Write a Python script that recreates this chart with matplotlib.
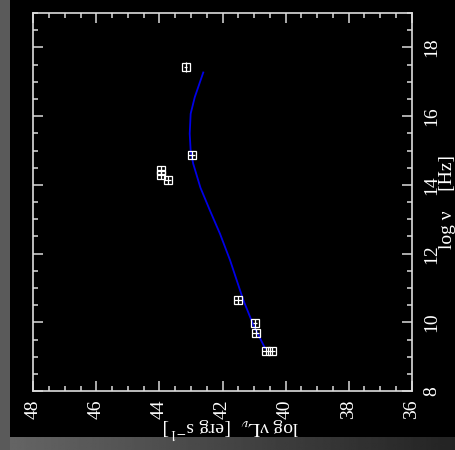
import numpy as np
import matplotlib
matplotlib.use("Agg")
import matplotlib.pyplot as plt
from matplotlib.ticker import MultipleLocator

plt.rcParams['font.family'] = ['Liberation Serif', 'DejaVu Serif']
plt.rcParams['mathtext.fontset'] = 'stix'

# Observed SED points: log(nu L_nu) [erg/s] and log(nu) [Hz]
obs_lum = [43.16, 42.98, 43.95, 43.95, 43.74, 41.50, 40.97, 40.95, 40.63, 40.44]
obs_nu = [17.42, 14.86, 14.44, 14.28, 14.15, 10.65, 9.97, 9.70, 9.17, 9.17]
obs_nu_err = [0.15, 0.12, 0.12, 0.12, 0.12, 0.12, 0.12, 0.12, 0.12, 0.12]
obs_lum_err = [0.05, 0.12, 0.12, 0.12, 0.12, 0.12, 0.05, 0.12, 0.12, 0.12]

# Model curve
model_nu = [9.25, 9.92, 10.65, 11.81, 12.58, 13.26, 13.92, 14.62, 15.00, 15.49, 16.07, 16.55, 17.27]
model_lum = [40.65, 41.02, 41.34, 41.76, 42.08, 42.40, 42.70, 42.93, 43.01, 43.04, 43.01, 42.88, 42.61]

W, H = 455, 450
fig = plt.figure(figsize=(W / 100, H / 100), dpi=100, facecolor='black')

# grey shadow border on the left and bottom
bg = fig.add_axes([0, 0, 1, 1], zorder=-10)
bg.set_axis_off()
bg.add_patch(plt.Rectangle((0, 0), 10, H, color='#5a5a5a', lw=0))
grad = np.linspace(0.40, 0.14, 256)[None, :]
bg.imshow(grad, extent=(0, W, H, 437), cmap='gray', vmin=0, vmax=1, aspect='auto')
bg.set_xlim(0, W)
bg.set_ylim(H, 0)

fg = '#dcdcdc'
ax = fig.add_axes([33.3 / W, 1 - 391.2 / H, 378.4 / W, 378.2 / H])
ax.set_facecolor('black')
for s in ax.spines.values():
    s.set_color(fg)
    s.set_linewidth(1.2)

ax.plot(model_lum, model_nu, color='#0000e6', lw=1.3, zorder=2)
ax.errorbar(obs_lum, obs_nu, xerr=obs_lum_err, yerr=obs_nu_err, fmt='s',
            mfc='none', mec='white', mew=0.9, ms=5.6, ecolor='white',
            elinewidth=0.9, capsize=0, zorder=3)

ax.set_xlim(48, 36)
ax.set_ylim(8, 19)
ax.xaxis.set_major_locator(MultipleLocator(2))
ax.xaxis.set_minor_locator(MultipleLocator(0.5))
ax.yaxis.set_major_locator(MultipleLocator(2))
ax.yaxis.set_minor_locator(MultipleLocator(0.5))
ax.tick_params(which='both', direction='in', colors=fg, top=True, bottom=True,
               left=True, right=True, labelleft=False, labelright=True,
               labelbottom=True, labeltop=False, width=1.1, labelsize=14,
               labelcolor='white')
ax.tick_params(which='major', length=7.5)
ax.tick_params(which='minor', length=3.8)
ax.tick_params(axis='x', pad=6)
ax.tick_params(axis='y', pad=8)
ax.set_yticks([8, 10, 12, 14, 16, 18])
for t in ax.get_xticklabels():
    t.set_rotation(90)
for t in ax.get_yticklabels():
    t.set_rotation(90)
    t.set_verticalalignment('center')

fig.text(448 / W, 1 - 202 / H, "log ν    [Hz]", rotation=90, color='white',
         fontsize=14, ha='center', va='center')
fig.text(231 / W, 1 - 428 / H, r"log ν$\mathrm{L}_\nu$  [erg s$^{-1}$]", rotation=180,
         color='white', fontsize=14, ha='center', va='center')

fig.savefig('out.png', dpi=100, facecolor='black')
